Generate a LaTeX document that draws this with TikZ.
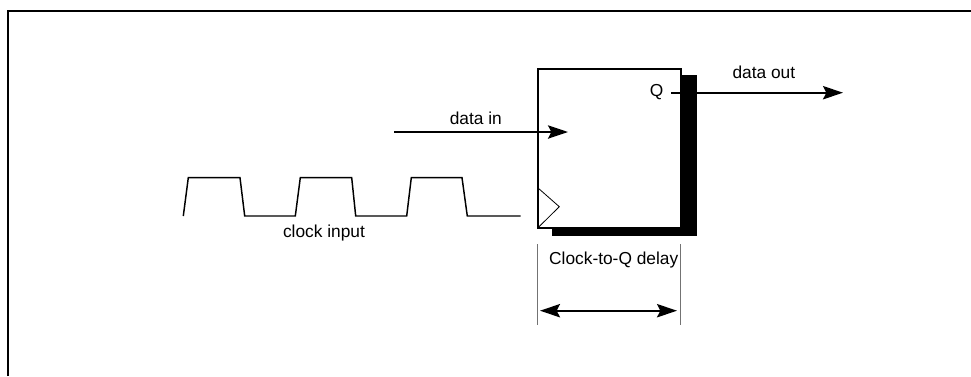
\documentclass[tikz,border=0pt]{standalone}
\usepackage{fontspec}
\setmainfont{Liberation Sans}
\usetikzlibrary{arrows.meta,positioning}

\begin{document}
\begin{tikzpicture}[x=0.75pt, y=-0.75pt, >={Stealth[length=15pt,width=10pt,inset=2.5pt]}, auto,
  every node/.append style={align=center, inner sep=0pt, font=\fontsize{13}{15}\selectfont},
  wire/.style={line width=1.4pt},
  pulse/.style={line width=1.1pt},
  int/.style={draw, fill=white, line width=1.4pt, outer sep=0pt, minimum width=107.25pt, minimum height=119.25pt, anchor=north west},
  dim/.style={line width=0.7pt, draw=black!55}]
 \useasboundingbox (0,0) rectangle (971,376);
 \draw[wire] (8,376) -- (8,11) -- (971,11);
 % shadow, then the box on top
 \fill[black] (552,75) rectangle (696.5,236);
 \node [int] (FF) at (537.7,69) {};
 \draw[line width=0.6pt] (FF.south west |- 0,187.7) -- (559.3,206.7) -- (FF.south west);
 \node (Q) at (656.7,92) {Q};
 \coordinate (din) at (394,132);
 \coordinate (dinEnd) at (568,132);
 \coordinate (dout) at (671,92.7);
 \coordinate (doutEnd) at (843,92.7);
 \path[->, wire] (din) edge node[pos=0.47, above=5pt] {data in} (dinEnd)
                 (dout) edge node[pos=0.54, above=9.5pt] {data out} (doutEnd);
 % clock waveform
 \draw[pulse] (183.3,216) -- (188.3,177.7) -- (240,177.7) -- (244.7,216)
   -- (295.3,216) -- (300.3,177.7) -- (351.7,177.7) -- (355.7,216)
   -- (406.7,216) -- (411.3,177.7) -- (462,177.7) -- (467.3,216) -- (520.7,216);
 \node (clk) at (324,233) {clock input};
 % delay dimension
 \node (delay) at (613.7,260) {Clock-to-Q delay};
 \coordinate (dimLt) at (537.7,244);
 \coordinate (dimLb) at (537.7,325);
 \coordinate (dimRt) at (680.2,244);
 \coordinate (dimRb) at (680.2,325);
 \draw[dim] (dimLt) -- (dimLb);
 \draw[dim] (dimRt) -- (dimRb);
 \coordinate (arrL) at (540,310.7);
 \coordinate (arrR) at (677,310.7);
 \draw[<->, wire] (arrL) -- (arrR);
\end{tikzpicture}
\end{document}
